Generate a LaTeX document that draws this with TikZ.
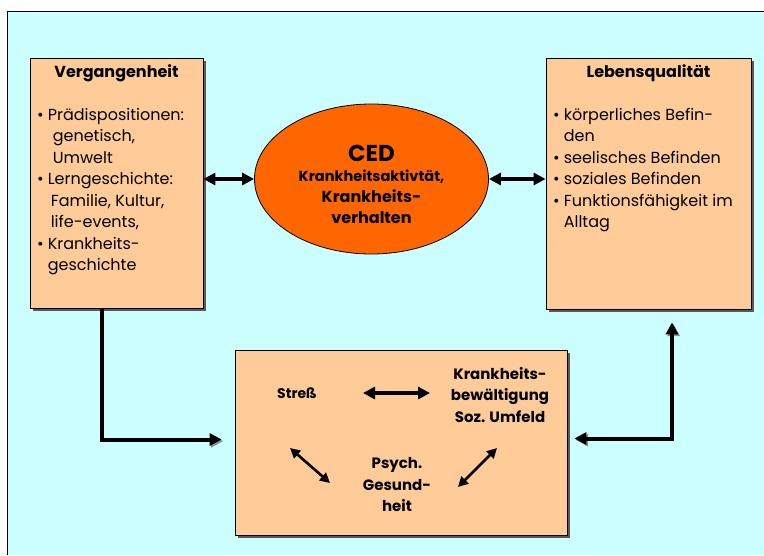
\documentclass[tikz,border=0pt]{standalone}
\usepackage{fontspec}
\setmainfont{Poppins}
\usetikzlibrary{arrows.meta,shapes.geometric,shadows}

\definecolor{bgcyan}{HTML}{CCFFFF}
\definecolor{boxtan}{HTML}{FFCC99}
\definecolor{cedorange}{HTML}{FF6600}

\begin{document}
\begin{tikzpicture}
  [x=1pt,y=-1pt,
   every node/.style={font=\fontsize{16}{21.5}\selectfont},
   tanbox/.style={rectangle,draw,fill=boxtan,line width=.8pt,inner sep=0pt,
     drop shadow={shadow xshift=2.5pt,shadow yshift=-2.5pt,fill=black!65,opacity=1}},
   hdr/.style={font=\fontsize{16}{21.5}\selectfont\bfseries},
   inbox/.style={font=\fontsize{15}{21.5}\selectfont\bfseries,align=center},
   dbl/.style={{Triangle[length=12pt,width=12pt]}-{Triangle[length=12pt,width=12pt]},line width=3.5pt},
   thin dbl/.style={{Triangle[length=10pt,width=10pt]}-{Triangle[length=10pt,width=10pt]},line width=2.6pt},
   link/.style={line width=4pt,
     preaction={draw=black!45,transform canvas={xshift=1.6pt,yshift=-1.6pt}}}]
  \useasboundingbox (0,0) rectangle (764,555);
  \fill[bgcyan] (7,11) rectangle (764,555);
  \draw[line width=.8pt] (7,555) -- (7,11) -- (764,11);

  \node[tanbox,minimum width=173,minimum height=250] (vg) at (116.5,183) {};
  \node[tanbox,minimum width=205,minimum height=251] (lq) at (648.5,183.5) {};
  \node[tanbox,minimum width=332,minimum height=185] (ps) at (401,442.5) {};
  \node[ellipse,draw,fill=cedorange,line width=.8pt,inner sep=0pt,
    minimum width=234,minimum height=150] (ced) at (371.5,179) {};
  \node[align=center,font=\fontsize{16}{21}\selectfont\bfseries] (cedlbl) at (371.5,184)
    {{\fontsize{23}{26}\selectfont CED}\\[-1pt]
     {\fontsize{14.5}{21}\selectfont Krankheitsaktivtät,}\\ Krankheits-\\ verhalten};

  \node[hdr] (vghdr) at (116.5,73) {Vergangenheit};
  \node[anchor=north west,inner sep=0pt] (vgtext) at (37,105)
    {\begin{tabular}{@{}l@{\hspace{4pt}}l@{}}
     \textbullet & Prädispositionen:\\
     & \hspace{5pt}genetisch,\\
     & \hspace{5pt}Umwelt\\
     \textbullet & Lerngeschichte:\\
     & \hspace{3pt}Familie, Kultur,\\
     & \hspace{3pt}life-events,\\
     \textbullet & Krankheits-\\
     & geschichte
     \end{tabular}};

  \node[hdr] (lqhdr) at (648.5,73) {Lebensqualität};
  \node[anchor=north west,inner sep=0pt] (lqtext) at (553,105)
    {\begin{tabular}{@{}l@{\hspace{4pt}}l@{}}
     \textbullet & körperliches Befin-\\
     & den\\
     \textbullet & seelisches Befinden\\
     \textbullet & soziales Befinden\\
     \textbullet & Funktionsfähigkeit im\\
     & Alltag
     \end{tabular}};

  \node[inbox,font=\fontsize{14}{21}\selectfont\bfseries] (stress) at (297,393) {Streß};
  \node[inbox] (kb) at (500,395) {Krankheits-\\bewältigung\\Soz. Umfeld};
  \node[inbox] (psych) at (397,485) {Psych.\\Gesund-\\heit};

  \foreach \from/\to in {vg.east/ced.west,lq.west/ced.east}
    \draw[dbl] (\to -| \from) -- (\to);
  \draw[dbl,line width=3.2pt,shorten <=66pt,shorten >=70pt] (stress.center) -- (stress.center -| kb.center);
  \draw[thin dbl] ([shift={(-7,55)}]stress.center) -- ([shift={(-67,-2)}]psych.center);
  \draw[thin dbl] ([shift={(-3,53)}]kb.center) -- ([shift={(61,2)}]psych.center);

  \draw[link,-{Triangle[length=12pt,width=12pt]}] ([xshift=-14.5pt]vg.south) |- ([shift={(-13,-3)}]ps.west);
  \draw[link,{Triangle[length=12pt,width=12pt]}-{Triangle[length=12pt,width=12pt]}]
    ([shift={(7,-4)}]ps.east) -| ([shift={(23.5,13)}]lq.south);
\end{tikzpicture}
\end{document}
